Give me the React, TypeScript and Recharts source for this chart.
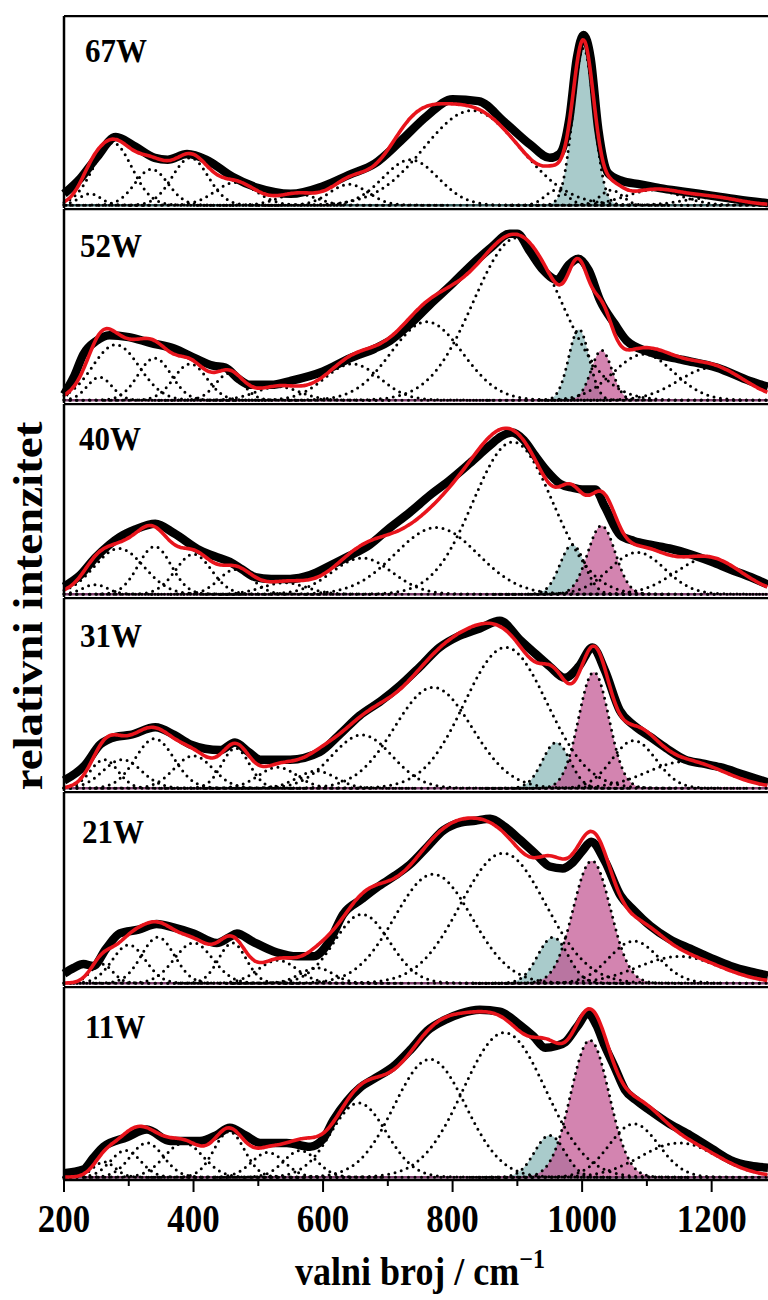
import { Area, ComposedChart, Line, ReferenceLine, XAxis, YAxis } from 'recharts';

// band = [centre (cm-1), height (% of panel), FWHM (cm-1)]
type Band = [number, number, number];
type Pt = [number, number];

const labels = ['67W', '52W', '40W', '31W', '21W', '11W'];
const majorTicks = [200, 400, 600, 800, 1000, 1200];
const minorTicks = [300, 500, 700, 900, 1100];

// 67W
const spectrum67: Pt[] = [
  [200, 6], [225, 14], [250, 25], [280, 36], [310, 31], [340, 25], [360, 24], [390, 27], [420, 24],
  [460, 15], [500, 9], [550, 6], [600, 10], [640, 16], [680, 22], [720, 34], [760, 47], [800, 56],
  [840, 55], [880, 44], [920, 32], [950, 25], [965, 27], [980, 45], [992, 78], [1002, 90], [1013, 78],
  [1025, 40], [1040, 17], [1060, 13], [1090, 11], [1120, 9], [1160, 7], [1200, 5], [1240, 3], [1287, 1],
];
const bands67: Band[] = [
  [240, 6, 40], [275, 33, 70], [335, 19, 60], [395, 25, 65], [465, 12, 75], [560, 6, 70], [640, 11, 70],
  [735, 24, 100], [830, 50, 175], [960, 8, 40], [1045, 8, 40], [1110, 8, 100], [1200, 4, 100],
];
const teal67: Band = [1002, 83, 38];
const pink67: Band | null = null;

// 52W
const spectrum52: Pt[] = [
  [200, 3], [215, 12], [230, 24], [250, 31], [270, 34], [300, 33], [333, 30], [370, 27], [402, 22],
  [430, 18], [449, 17], [470, 11], [487, 8], [520, 8], [549, 10], [600, 15], [642, 22], [680, 27],
  [703, 31], [735, 40], [765, 50], [800, 61], [827, 70], [860, 80], [888, 87], [900, 87], [919, 78],
  [940, 68], [961, 63], [980, 71], [994, 74], [1010, 68], [1028, 52], [1050, 40], [1069, 31], [1105, 25],
  [1156, 21], [1208, 17], [1259, 10], [1287, 7],
];
const bands52: Band[] = [
  [255, 12, 45], [280, 29, 85], [340, 22, 60], [395, 19, 60], [455, 14, 50], [530, 7, 80], [645, 19, 100],
  [760, 41, 130], [900, 85, 160], [1095, 24, 110], [1200, 17, 120],
];
const teal52: Band = [995, 37, 37];
const pink52: Band | null = [1030, 26, 38];

// 40W
const spectrum40: Pt[] = [
  [200, 4], [225, 10], [248, 19], [270, 26], [286, 30], [310, 34], [341, 37], [370, 32], [410, 23],
  [440, 19], [456, 17], [475, 13], [495, 9], [520, 8], [549, 8], [580, 10], [611, 15], [640, 20],
  [672, 26], [700, 34], [734, 43], [765, 52], [796, 60], [827, 69], [857, 78], [875, 83], [892, 85],
  [910, 81], [927, 73], [945, 65], [966, 58], [985, 56], [1000, 55], [1020, 55], [1035, 46], [1059, 31],
  [1080, 28], [1105, 26], [1135, 24], [1167, 21], [1200, 17], [1229, 13], [1260, 9], [1287, 5],
];
const bands40: Band[] = [
  [248, 5, 45], [285, 24, 90], [340, 25, 60], [400, 21, 65], [465, 13, 60], [540, 6, 80], [660, 19, 110],
  [775, 35, 150], [893, 80, 145], [1085, 22, 100], [1195, 19, 120],
];
const teal40: Band = [985, 26, 45];
const pink40: Band | null = [1030, 36, 50];

// 31W
const spectrum31: Pt[] = [
  [200, 4], [232, 12], [256, 23], [280, 27], [302, 28], [341, 32], [370, 28], [395, 23], [441, 20],
  [464, 24], [485, 19], [503, 15], [549, 15], [595, 19], [625, 28], [656, 38], [690, 46], [719, 54],
  [750, 64], [780, 74], [810, 80], [842, 84], [873, 88], [904, 78], [930, 70], [950, 64], [973, 58],
  [995, 64], [1016, 74], [1035, 62], [1058, 41], [1080, 33], [1105, 27], [1130, 21], [1159, 15],
  [1185, 13], [1213, 11], [1250, 7], [1287, 3],
];
const bands31: Band[] = [
  [262, 15, 50], [290, 15, 70], [340, 26, 70], [400, 17, 70], [465, 21, 50], [530, 11, 70], [590, 9, 70],
  [660, 28, 110], [770, 53, 140], [882, 74, 150], [1080, 25, 80], [1160, 14, 140],
];
const teal31: Band = [960, 24, 50];
const pink31: Band | null = [1018, 61, 55];

// 21W
const spectrum21: Pt[] = [
  [200, 5], [215, 8], [230, 10], [245, 9], [265, 18], [286, 26], [315, 28], [343, 31], [370, 29],
  [400, 26], [436, 21], [455, 24], [467, 26], [490, 22], [529, 16], [560, 14], [585, 14], [610, 22],
  [631, 36], [660, 44], [683, 50], [710, 56], [734, 62], [760, 71], [786, 80], [812, 84], [835, 85],
  [858, 86], [880, 82], [904, 75], [930, 67], [950, 61], [970, 60], [985, 63], [1000, 69], [1014, 74],
  [1035, 64], [1059, 46], [1080, 38], [1105, 30], [1135, 23], [1167, 18], [1200, 13], [1229, 9],
  [1260, 6], [1287, 4],
];
const bands21: Band[] = [
  [258, 10, 40], [300, 20, 60], [345, 24, 60], [400, 21, 70], [460, 21, 50], [530, 12, 70], [590, 8, 60],
  [660, 36, 100], [770, 57, 140], [878, 68, 155], [1080, 22, 90], [1150, 14, 150],
];
const teal21: Band = [955, 24, 55];
const pink21: Band | null = [1015, 64, 68];

// 11W
const spectrum11: Pt[] = [
  [200, 2], [230, 4], [245, 10], [261, 16], [297, 21], [328, 25], [364, 19], [410, 19], [435, 22],
  [456, 26], [480, 22], [503, 18], [544, 18], [580, 16], [600, 20], [616, 30], [637, 40], [657, 47],
  [680, 52], [708, 58], [735, 67], [761, 77], [790, 83], [812, 86], [842, 88], [873, 87], [904, 80],
  [925, 74], [943, 68], [960, 69], [974, 71], [992, 79], [1009, 86], [1022, 80], [1035, 69], [1050, 58],
  [1066, 46], [1085, 40], [1105, 35], [1135, 28], [1167, 22], [1200, 15], [1229, 9], [1260, 6], [1287, 5],
];
const bands11: Band[] = [
  [262, 8, 40], [295, 14, 55], [328, 18, 60], [385, 18, 70], [455, 24, 55], [515, 13, 60], [565, 14, 60],
  [655, 39, 100], [765, 62, 130], [880, 76, 150], [1080, 28, 90], [1150, 18, 140],
];
const teal11: Band = [950, 22, 55];
const pink11: Band | null = [1012, 72, 70];

const spectra = [spectrum67, spectrum52, spectrum40, spectrum31, spectrum21, spectrum11];
const bandSets = [bands67, bands52, bands40, bands31, bands21, bands11];
const teals = [teal67, teal52, teal40, teal31, teal21, teal11];
const pinks = [pink67, pink52, pink40, pink31, pink21, pink11];

// layout
const panelTops = [15, 208, 403, 597, 791, 986, 1180];
const labelX = [85, 80, 79, 80, 82, 85];
const labelBase = [62, 257, 450, 647, 843, 1038];
const X_MIN = 200;
const X_MAX = 1287;
const FONT = "'Liberation Serif', 'Times New Roman', serif";

const grid: number[] = [];
for (let x = X_MIN; x <= X_MAX; x += 3) grid.push(x);

const gauss = (x: number, [c, h, f]: Band) => h * Math.exp((-4 * Math.LN2 * (x - c) ** 2) / (f * f));
const bandPoints = (b: Band) =>
  grid.filter((x) => Math.abs(x - b[0]) <= 2.2 * b[2]).map((x) => ({ x, y: gauss(x, b) }));

function XTick(props: any) {
  const { x, y, payload } = props;
  const major = payload.value % 200 === 0;
  return (
    <g>
      <line x1={x} x2={x} y1={y} y2={y + (major ? 12 : 6)} stroke="#000" strokeWidth={2} />
      {major && (
        <text
          transform={`translate(${x},${y + 52}) scale(1,1.12)`}
          textAnchor="middle"
          fontFamily={FONT}
          fontWeight="bold"
          fontSize={35}
          fill="#000"
        >
          {payload.value}
        </text>
      )}
    </g>
  );
}

function Panel({ i }: { i: number }) {
  const last = i === 5;
  const top = panelTops[i];
  const plotH = panelTops[i + 1] - top;
  const all: Band[] = [...bandSets[i], teals[i], ...(pinks[i] ? [pinks[i] as Band] : [])];
  const fit = grid.map((x) => ({ x, y: all.reduce((s, b) => s + gauss(x, b), 0) }));
  const spec = spectra[i].map(([x, y]) => ({ x, y }));
  const dots = { stroke: '#000', strokeWidth: 3, strokeDasharray: '0 6.5', strokeLinecap: 'round' as const };
  return (
    <div style={{ position: 'absolute', left: 0, top }}>
      <ComposedChart width={768} height={plotH + (last ? 60 : 0)} margin={{ top: 1, right: 0, bottom: 0, left: 64 }}>
        <XAxis
          dataKey="x"
          type="number"
          domain={[X_MIN, X_MAX]}
          hide={!last}
          height={60}
          ticks={[...majorTicks, ...minorTicks].sort((a, b) => a - b)}
          interval={0}
          tick={<XTick />}
          tickLine={false}
          tickSize={0}
          tickMargin={0}
          axisLine={{ stroke: '#000', strokeWidth: 2.5 }}
        />
        <YAxis type="number" domain={[-1.5, 100]} hide />
        <ReferenceLine y={0} stroke={i === 0 ? '#355a5a' : '#7b3d6b'} strokeWidth={2.5} />
        <Area
          data={bandPoints(teals[i])}
          dataKey="y"
          type="monotone"
          stroke="none"
          fill="#a9cbcb"
          fillOpacity={1}
          isAnimationActive={false}
        />
        {pinks[i] && (
          <Area
            data={bandPoints(pinks[i] as Band)}
            dataKey="y"
            type="monotone"
            stroke="none"
            fill="#c0508f"
            fillOpacity={0.7}
            isAnimationActive={false}
          />
        )}
        <ReferenceLine y={0} {...dots} />
        {all.map((b, k) => (
          <Line
            key={k}
            data={bandPoints(b)}
            dataKey="y"
            type="monotone"
            dot={false}
            {...dots}
            isAnimationActive={false}
          />
        ))}
        <Line
          data={spec}
          dataKey="y"
          type="monotone"
          dot={false}
          stroke="#000"
          strokeWidth={8.5}
          strokeLinejoin="round"
          isAnimationActive={false}
        />
        <Line
          data={fit}
          dataKey="y"
          type="monotone"
          dot={false}
          stroke="#e8141c"
          strokeWidth={3.6}
          isAnimationActive={false}
        />
        <ReferenceLine y={100} stroke="#000" strokeWidth={2.5} />
        <ReferenceLine x={X_MIN} stroke="#000" strokeWidth={2.5} />
      </ComposedChart>
    </div>
  );
}

export default function App() {
  return (
    <div style={{ position: 'absolute', left: 0, top: 0, width: 768, height: 1300, background: '#fff', overflow: 'hidden' }}>
      {labels.map((_, i) => (
        <Panel key={i} i={i} />
      ))}
      <svg width={768} height={1300} style={{ position: 'absolute', left: 0, top: 0, pointerEvents: 'none' }}>
        {labels.map((t, i) => (
          <text
            key={t}
            transform={`translate(${labelX[i]},${labelBase[i]}) scale(1,1.1)`}
            fontFamily={FONT}
            fontWeight="bold"
            fontSize={31}
            fill="#000"
          >
            {t}
          </text>
        ))}
        <text
          transform="translate(42,606) rotate(-90) scale(1.12,1)"
          textAnchor="middle"
          fontFamily={FONT}
          fontWeight="bold"
          fontSize={42}
          fill="#000"
        >
          relativni intenzitet
        </text>
        <text
          transform="translate(420,1285) scale(1,1.12)"
          textAnchor="middle"
          fontFamily={FONT}
          fontWeight="bold"
          fontSize={36}
          fill="#000"
        >
          valni broj / cm
          <tspan fontSize={24} dy={-15}>
            −1
          </tspan>
        </text>
      </svg>
    </div>
  );
}
